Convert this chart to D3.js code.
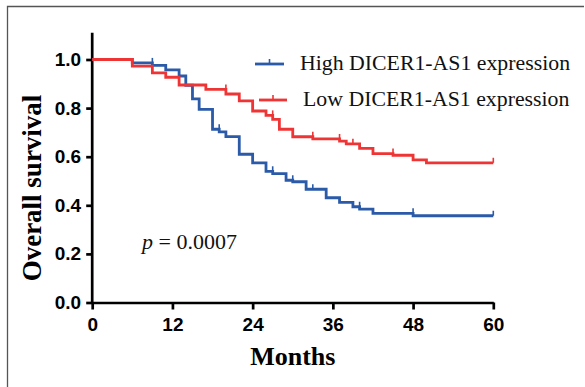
<!DOCTYPE html>
<html>
<head>
<meta charset="utf-8">
<script src="https://cdn.jsdelivr.net/npm/d3@7"></script>
<style>
  body { margin: 0; background: #fff; }
  svg { display: block; }
</style>
</head>
<body>
<svg id="chart"></svg>
<script>
const width = 585
const height = 387

// Kaplan-Meier steps: month at which survival drops, and the new level
const highTimes = [0, 6, 9, 11, 13, 14, 15, 16, 18, 19, 20, 22, 24, 26, 27, 29, 30, 32, 35, 37, 39, 40, 42, 48]
const highSurv = [1.0, 0.986, 0.976, 0.957, 0.932, 0.894, 0.838, 0.795, 0.713, 0.702, 0.683, 0.610, 0.575, 0.540, 0.530, 0.503, 0.497, 0.466, 0.431, 0.412, 0.394, 0.384, 0.367, 0.357]
const highCensored = [9, 19, 27, 30, 33, 40, 48, 60]

const lowTimes = [0, 6, 9, 11, 13, 17, 20, 22, 24, 26, 27, 28, 30, 33, 37, 38, 40, 42, 45, 48, 50]
const lowSurv = [1.0, 0.973, 0.945, 0.927, 0.895, 0.877, 0.858, 0.830, 0.788, 0.770, 0.754, 0.713, 0.682, 0.673, 0.664, 0.653, 0.634, 0.613, 0.606, 0.587, 0.575]
const lowCensored = [20, 27, 33, 37, 39, 45, 60]

const xTicks = [0, 12, 24, 36, 48, 60]
const yTicks = [0, 0.2, 0.4, 0.6, 0.8, 1.0]

const seriesNames = ['High DICER1-AS1 expression', 'Low DICER1-AS1 expression']
const seriesColors = ['#2a5aa8', '#ee3434']

const svg = d3.select('#chart')
  .attr('width', width)
  .attr('height', height)

// outer frame (right and bottom edges fall outside the picture)
svg.append('path')
  .attr('d', 'M7.5,390V6.5H584')
  .attr('fill', 'none')
  .attr('stroke', '#555')
  .attr('stroke-width', 1.3)

const x = d3.scaleLinear().domain([0, 60]).range([92.2, 493.3])
const y = d3.scaleLinear().domain([0, 1.0]).range([302.5, 59.5])

// axes
const yAxis = d3.axisLeft(y)
  .tickValues(yTicks)
  .tickFormat(d3.format('.1f'))
  .tickSize(6)
  .tickSizeOuter(0)
  .tickPadding(5)

const xAxis = d3.axisBottom(x)
  .tickValues(xTicks)
  .tickSize(7)
  .tickSizeOuter(0)
  .tickPadding(8)

const gy = svg.append('g')
  .attr('transform', `translate(${x(0)},0)`)
  .call(yAxis)
gy.select('.domain').attr('d', `M0,${y(0) + 1}V${y(1.11)}`)

const gx = svg.append('g')
  .attr('transform', `translate(0,${y(0)})`)
  .call(xAxis)

svg.selectAll('.domain, .tick line')
  .attr('stroke', '#000')
  .attr('stroke-width', 2.7)
svg.selectAll('.tick text')
  .attr('fill', '#000')
  .style('font-family', '"Liberation Sans", Arial, sans-serif')
  .style('font-weight', 'bold')
  .style('font-size', '19px')

// axis titles
svg.append('text')
  .attr('x', x(30))
  .attr('y', 365)
  .attr('text-anchor', 'middle')
  .style('font-family', '"Liberation Serif", "Times New Roman", serif')
  .style('font-weight', 'bold')
  .style('font-size', '26px')
  .text('Months')

svg.append('text')
  .attr('transform', 'translate(41,188) rotate(-90)')
  .attr('text-anchor', 'middle')
  .style('font-family', '"Liberation Serif", "Times New Roman", serif')
  .style('font-weight', 'bold')
  .style('font-size', '27px')
  .text('Overall survival')

// survival curves
const series = [
  { times: highTimes, surv: highSurv, censored: highCensored },
  { times: lowTimes, surv: lowSurv, censored: lowCensored },
]

const line = d3.line()
  .x((d) => x(d[0]))
  .y((d) => y(d[1]))
  .curve(d3.curveStepAfter)

// level just before time t (censor marks sit on the level before a drop)
function levelBefore(s, t) {
  let v = s.surv[0]
  s.times.forEach((tt, i) => { if (tt < t) v = s.surv[i] })
  return v
}

series.forEach((s, k) => {
  const pts = s.times.map((t, i) => [t, s.surv[i]])
  pts.push([60, s.surv[s.surv.length - 1]])

  svg.append('path')
    .datum(pts)
    .attr('d', line)
    .attr('fill', 'none')
    .attr('stroke', seriesColors[k])
    .attr('stroke-width', 2.8)

  svg.append('g').selectAll('line')
    .data(s.censored)
    .join('line')
      .attr('x1', (d) => x(d))
      .attr('x2', (d) => x(d))
      .attr('y1', (d) => y(levelBefore(s, d)))
      .attr('y2', (d) => y(levelBefore(s, d)) - 5)
      .attr('stroke', seriesColors[k])
      .attr('stroke-width', 1.6)
})

// legend
const legendRows = [
  { x1: 255, x2: 284, y: 64, textX: 300, textY: 70 },
  { x1: 259, x2: 287, y: 100, textX: 303, textY: 106 },
]

legendRows.forEach((r, k) => {
  svg.append('line')
    .attr('x1', r.x1).attr('x2', r.x2)
    .attr('y1', r.y).attr('y2', r.y)
    .attr('stroke', seriesColors[k])
    .attr('stroke-width', 2.8)
  svg.append('line')
    .attr('x1', (r.x1 + r.x2) / 2).attr('x2', (r.x1 + r.x2) / 2)
    .attr('y1', r.y).attr('y2', r.y - 5)
    .attr('stroke', seriesColors[k])
    .attr('stroke-width', 1.6)
  svg.append('text')
    .attr('x', r.textX)
    .attr('y', r.textY)
    .style('font-family', '"Liberation Serif", "Times New Roman", serif')
    .style('font-size', '21.8px')
    .attr('fill', '#111')
    .text(seriesNames[k])
})

// p-value
const pText = svg.append('text')
  .attr('x', 142)
  .attr('y', 249)
  .style('font-family', '"Liberation Serif", "Times New Roman", serif')
  .style('font-size', '22px')
  .attr('fill', '#111')
pText.append('tspan').style('font-style', 'italic').text('p')
pText.append('tspan').text(' = 0.0007')
</script>
</body>
</html>
